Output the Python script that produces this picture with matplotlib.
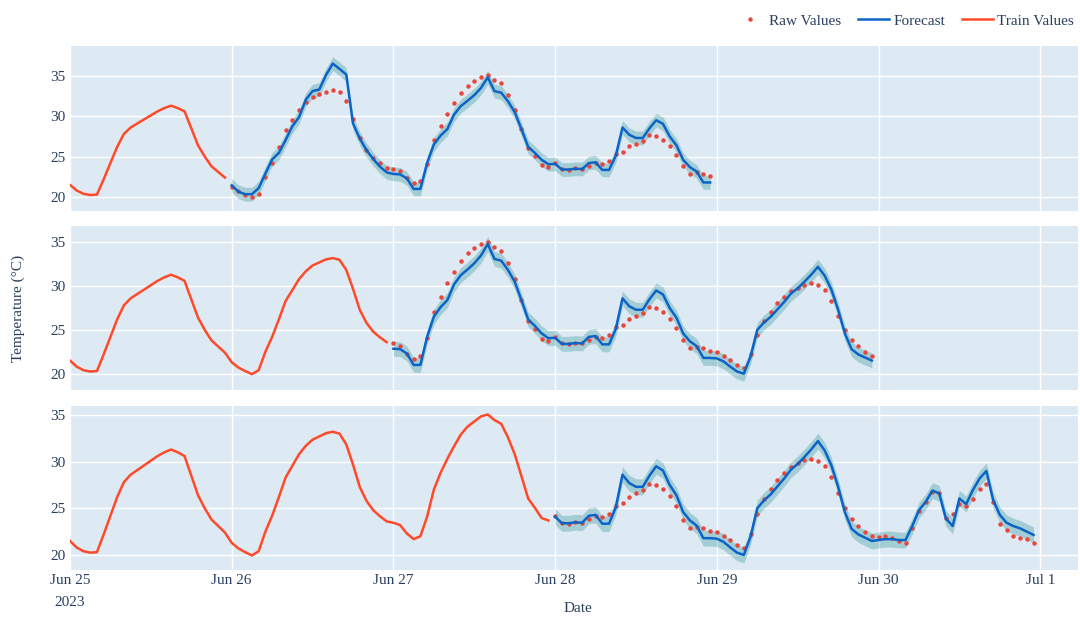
import numpy as np
import pandas as pd
import matplotlib
matplotlib.use("Agg")
import matplotlib.pyplot as plt

# hourly measured temperature, Jun 25 00:00 .. Jun 30 23:00
raw_jun25 = [21.5, 20.8, 20.4, 20.25, 20.3, 22.2, 24.2, 26.2, 27.8, 28.6, 29.1, 29.6,
             30.1, 30.6, 31.0, 31.3, 31.0, 30.6, 28.5, 26.4, 25.0, 23.8, 23.1, 22.4]
raw_jun26 = [21.3, 20.7, 20.3, 19.95, 20.4, 22.5, 24.2, 26.2, 28.3, 29.55, 30.8, 31.7,
             32.35, 32.7, 33.05, 33.2, 33.0, 31.85, 29.7, 27.3, 25.8, 24.8, 24.15, 23.6]
raw_jun27 = [23.45, 23.2, 22.3, 21.7, 22.0, 24.1, 27.0, 28.8, 30.3, 31.65, 32.9, 33.75,
             34.3, 34.85, 35.05, 34.45, 34.05, 32.6, 30.8, 28.45, 26.05, 25.05, 23.95, 23.7]
raw_jun28 = [24.15, 23.45, 23.35, 23.55, 23.45, 23.85, 24.15, 24.05, 24.4, 25.3, 25.6, 26.25,
             26.6, 26.95, 27.65, 27.5, 27.05, 26.3, 25.2, 23.8, 22.9, 23.05, 22.9, 22.55]
raw_jun29 = [22.5, 22.05, 21.6, 21.05, 20.7, 22.3, 24.4, 26.05, 27.05, 28.05, 28.8, 29.45,
             29.8, 30.15, 30.3, 30.1, 29.55, 28.3, 26.6, 25.0, 23.9, 23.15, 22.5, 22.05]
raw_jun30 = [21.95, 22.05, 21.8, 21.45, 21.3, 22.9, 24.75, 25.7, 26.75, 26.6, 23.95, 24.35,
             25.45, 25.25, 25.95, 27.05, 27.6, 25.7, 23.3, 22.7, 22.05, 21.85, 21.7, 21.3]

# model forecast, Jun 26 00:00 .. Jun 30 23:00
fc_jun26 = [21.45, 20.65, 20.35, 20.35, 21.1, 22.9, 24.65, 25.45, 27.05, 28.75, 29.9, 32.05,
            33.1, 33.3, 35.1, 36.5, 35.85, 35.15, 29.1, 27.25, 25.8, 24.7, 23.75, 23.05]
fc_jun27 = [22.85, 22.8, 22.3, 21.0, 21.0, 24.2, 26.5, 27.6, 28.4, 30.2, 31.25, 31.9,
            32.6, 33.5, 34.8, 33.1, 32.9, 31.85, 30.5, 28.4, 26.2, 25.45, 24.6, 24.05]
fc_jun28 = [24.1, 23.4, 23.4, 23.5, 23.45, 24.2, 24.3, 23.35, 23.35, 25.1, 28.6, 27.7,
            27.3, 27.3, 28.5, 29.5, 29.05, 27.5, 26.4, 24.6, 23.7, 23.15, 21.8, 21.8]
fc_jun29 = [21.75, 21.4, 20.8, 20.25, 20.0, 21.95, 25.0, 25.85, 26.5, 27.35, 28.2, 29.15,
            29.75, 30.5, 31.3, 32.2, 31.2, 29.6, 27.3, 24.6, 22.8, 22.2, 21.85, 21.5]
fc_jun30 = [21.6, 21.7, 21.7, 21.6, 21.6, 23.1, 24.8, 25.7, 26.9, 26.6, 23.9, 23.1,
            26.05, 25.45, 26.95, 28.2, 29.0, 25.9, 24.3, 23.45, 23.1, 22.85, 22.5, 22.15]
fc_halfwidth = 0.85  # prediction interval +/-

tick_dates = ["2023-06-25", "2023-06-26", "2023-06-27", "2023-06-28",
              "2023-06-29", "2023-06-30", "2023-07-01"]
tick_labels = ["Jun 25\n2023", "Jun 26", "Jun 27", "Jun 28", "Jun 29", "Jun 30", "Jul 1"]
y_ticks = [20, 25, 30, 35]
y_limits = [(18.27, 38.68), (18.14, 36.86), (18.39, 35.96)]


def main():
    raw = np.array(raw_jun25 + raw_jun26 + raw_jun27 + raw_jun28 + raw_jun29 + raw_jun30)
    fc = np.array(fc_jun26 + fc_jun27 + fc_jun28 + fc_jun29 + fc_jun30)
    t_raw = pd.date_range("2023-06-25", periods=len(raw), freq="h")
    t_fc = t_raw[24:]

    plt.rcParams['font.family'] = ['Liberation Serif', 'DejaVu Serif']
    text_col = '#2a3f5f'
    bg = '#dde9f3'

    fig = plt.figure(figsize=(10.8, 6.19), dpi=100)
    left, width = 70 / 1080, 1008 / 1080
    rows = [(46, 211), (226, 390), (406, 570)]

    handles = None
    for i, (top, bot) in enumerate(rows):
        ax = fig.add_axes([left, 1 - bot / 619, width, (bot - top) / 619])
        ax.set_facecolor(bg)
        for s in ax.spines.values():
            s.set_visible(False)
        ax.grid(True, color='white', linewidth=1.0)
        ax.set_axisbelow(True)

        n_train = 24 * (i + 1)
        win = slice(24 * i, 24 * (i + 3))

        # forecast band, raw dots, forecast line, training history
        ax.fill_between(t_fc[win], fc[win] - fc_halfwidth, fc[win] + fc_halfwidth,
                        color=(0, 0.5, 0.5, 0.26), linewidth=0)
        dots, = ax.plot(t_raw[n_train:n_train + 72], raw[n_train:n_train + 72], 'o',
                        color='#e8453c', markersize=3.2, markeredgewidth=0, label='Raw Values')
        line, = ax.plot(t_fc[win], fc[win], color='#0a64c8', linewidth=1.8, label='Forecast')
        train, = ax.plot(t_raw[:n_train], raw[:n_train], color='#ff4a2a', linewidth=1.8,
                         label='Train Values')
        if handles is None:
            handles = [dots, line, train]

        ax.set_xlim(pd.Timestamp("2023-06-25"), pd.Timestamp("2023-07-01 05:36"))
        ax.set_ylim(*y_limits[i])
        ax.set_yticks(y_ticks)
        ax.set_xticks(pd.to_datetime(tick_dates))
        ax.tick_params(length=0, labelsize=11, labelcolor=text_col, pad=3)
        if i == 2:
            ax.set_xticklabels(tick_labels)
            for lbl in ax.get_xticklabels():
                lbl.set_linespacing(1.9)
        else:
            ax.set_xticklabels([])

    fig.text(18 / 1080, 1 - 308 / 619, 'Temperature (°C)', rotation=90, ha='center',
             va='center', fontsize=11, color=text_col)
    fig.text(578 / 1080, 1 - 609 / 619, 'Date', ha='center', va='center',
             fontsize=11, color=text_col)

    leg = fig.legend(handles=handles, loc='upper right', bbox_to_anchor=(1077 / 1080, 1 - 11 / 619),
                     ncol=3, frameon=False, fontsize=11, handlelength=2.0,
                     columnspacing=1.1, handletextpad=0.3, borderaxespad=0, borderpad=0.2)
    for txt in leg.get_texts():
        txt.set_color(text_col)

    fig.savefig('out.png', dpi=100)


if __name__ == "__main__":
    main()
